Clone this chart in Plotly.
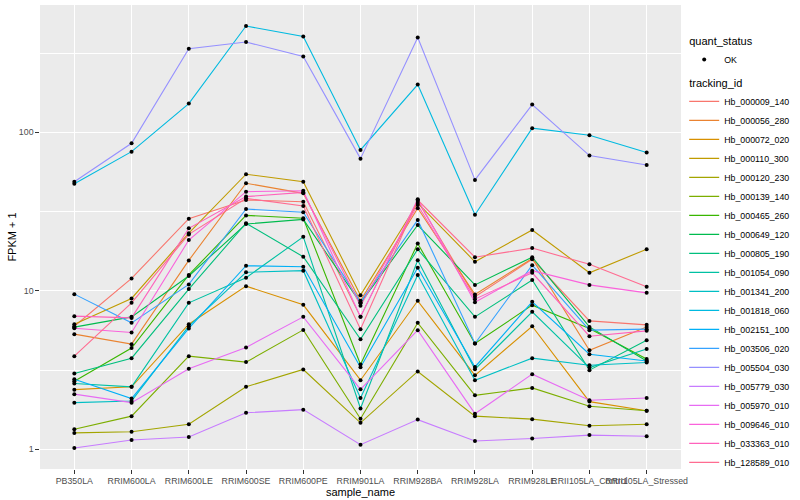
import plotly.graph_objects as go

samples = ["PB350LA", "RRIM600LA", "RRIM600LE", "RRIM600SE", "RRIM600PE", "RRIM901LA",
           "RRIM928BA", "RRIM928LA", "RRIM928LE", "RRII105LA_Control", "RRII105LA_Stressed"]

tracking_ids = ["Hb_000009_140", "Hb_000056_280", "Hb_000072_020", "Hb_000110_300", "Hb_000120_230",
                "Hb_000139_140", "Hb_000465_260", "Hb_000649_120", "Hb_000805_190", "Hb_001054_090",
                "Hb_001341_200", "Hb_001818_060", "Hb_002151_100", "Hb_003506_020", "Hb_005504_030",
                "Hb_005779_030", "Hb_005970_010", "Hb_009646_010", "Hb_033363_010", "Hb_128589_010"]

# FPKM + 1 per sample
hb_000009_140 = [5.98, 11.98, 28.5, 37.4, 36.5, 6.85, 36.9, 9.17, 15.8, 6.46, 6.10]
hb_000056_280 = [5.33, 4.61, 15.56, 47.7, 41.2, 8.67, 33.2, 9.49, 16.0, 4.22, 5.92]
hb_000072_020 = [2.38, 2.48, 6.16, 10.7, 8.16, 2.73, 8.65, 2.93, 5.98, 2.0, 1.75]
hb_000110_300 = [6.16, 8.95, 23.1, 54.4, 48.8, 9.39, 35.8, 15.25, 24.2, 13.0, 18.3]
hb_000120_230 = [1.27, 1.29, 1.44, 2.48, 3.19, 1.47, 3.10, 1.62, 1.55, 1.41, 1.44]
hb_000139_140 = [1.34, 1.62, 3.87, 3.55, 5.67, 1.56, 6.28, 2.19, 2.44, 1.87, 1.75]
hb_000465_260 = [2.69, 4.36, 12.6, 29.9, 28.7, 3.43, 19.9, 4.65, 8.12, 5.79, 3.72]
hb_000649_120 = [5.90, 6.85, 12.4, 26.4, 28.2, 8.36, 26.0, 10.9, 16.3, 5.92, 3.61]
hb_000805_190 = [3.01, 3.76, 10.25, 26.7, 16.4, 4.95, 18.3, 6.85, 11.7, 3.16, 4.88]
hb_001054_090 = [2.60, 2.48, 8.40, 12.1, 21.9, 1.81, 15.6, 3.2, 7.37, 3.28, 4.30]
hb_001341_200 = [1.97, 2.02, 5.98, 13.1, 13.4, 2.11, 12.6, 2.73, 3.76, 3.39, 3.53]
hb_001818_060 = [47.4, 75.5, 151.8, 468, 402.4, 77.4, 200, 30.2, 106.2, 95.9, 74.5]
hb_002151_100 = [2.77, 2.09, 5.79, 14.4, 14.2, 3.30, 13.97, 3.31, 8.52, 3.98, 3.61]
hb_003506_020 = [9.53, 6.28, 10.97, 32.8, 31.3, 8.48, 28.0, 4.65, 14.5, 5.65, 5.73]
hb_005504_030 = [48.8, 85.3, 336.5, 370.9, 300.8, 68.2, 396.5, 50.1, 149.6, 71.3, 62.2]
hb_005779_030 = [1.02, 1.145, 1.196, 1.70, 1.78, 1.07, 1.54, 1.13, 1.17, 1.23, 1.21]
hb_005970_010 = [2.23, 1.97, 3.22, 4.39, 6.85, 2.39, 5.65, 1.68, 2.98, 2.04, 2.11]
hb_009646_010 = [5.81, 5.46, 20.9, 42.2, 42.8, 6.85, 37.8, 8.48, 13.4, 10.9, 9.71]
hb_033363_010 = [6.92, 6.75, 24.8, 39.3, 41.8, 8.04, 34.8, 8.86, 13.0, 5.17, 5.59]
hb_128589_010 = [3.87, 8.40, 22.7, 38.3, 34.3, 5.73, 37.4, 16.3, 18.6, 14.7, 10.6]

series = [hb_000009_140, hb_000056_280, hb_000072_020, hb_000110_300, hb_000120_230,
          hb_000139_140, hb_000465_260, hb_000649_120, hb_000805_190, hb_001054_090,
          hb_001341_200, hb_001818_060, hb_002151_100, hb_003506_020, hb_005504_030,
          hb_005779_030, hb_005970_010, hb_009646_010, hb_033363_010, hb_128589_010]

colors = ["#F8766D", "#EA8331", "#D89000", "#C09B00", "#A3A500", "#7CAE00", "#39B600", "#00BB4E",
          "#00BF7D", "#00C1A3", "#00BFC4", "#00BAE0", "#00B0F6", "#35A2FF", "#9590FF", "#C77CFF",
          "#E76BF3", "#FA62DB", "#FF62BC", "#FF6C91"]

FONT = "Liberation Sans, Arial, sans-serif"

fig = go.Figure()
for i, (tid, vals, col) in enumerate(zip(tracking_ids, series, colors)):
    fig.add_trace(go.Scatter(
        x=samples, y=vals, mode="lines", name=tid,
        line=dict(color=col, width=1.1),
        legendgroup="tracking_id",
        legendgrouptitle=dict(text="tracking_id") if i == 0 else None,
        legendrank=100 + i,
    ))

all_x = [s for vals in series for s in samples]
all_y = [v for vals in series for v in vals]
fig.add_trace(go.Scatter(
    x=all_x, y=all_y, mode="markers", name="OK",
    marker=dict(color="black", size=4),
    legendgroup="quant_status",
    legendgrouptitle=dict(text="quant_status"),
    legendrank=1,
))

fig.update_layout(
    width=800, height=500,
    margin=dict(l=40, r=116, t=5, b=31),
    paper_bgcolor="white", plot_bgcolor="#EBEBEB",
    font=dict(family=FONT, size=9, color="black"),
    showlegend=True,
    legend=dict(
        x=1.005, y=0.955, xanchor="left", yanchor="top",
        font=dict(size=8.8, color="black"),
        grouptitlefont=dict(size=11, color="black"),
        traceorder="grouped", tracegroupgap=4,
        itemwidth=30, bgcolor="rgba(0,0,0,0)",
    ),
    xaxis=dict(
        type="category", categoryorder="array", categoryarray=samples,
        tickmode="array", tickvals=samples,
        range=[-0.6, 10.6], tickangle=0,
        showgrid=True, gridcolor="white", gridwidth=1.07,
        zeroline=False, showline=False,
        ticks="outside", ticklen=3.7, tickcolor="#333333", tickwidth=1,
        tickfont=dict(size=8.8, color="#4D4D4D"),
        title=dict(text="sample_name", font=dict(size=11, color="black"), standoff=0),
        automargin=False,
    ),
    yaxis=dict(
        type="log", range=[-0.124, 2.803],
        tickmode="array", tickvals=[1, 10, 100], ticktext=["1", "10", "100"],
        showgrid=True, gridcolor="white", gridwidth=1.07,
        minor=dict(tickvals=[0.316228, 3.16228, 31.6228, 316.228], showgrid=True,
                   gridcolor="white", gridwidth=0.53, ticks=""),
        zeroline=False, showline=False,
        ticks="outside", ticklen=3.7, tickcolor="#333333", tickwidth=1,
        tickfont=dict(size=8.8, color="#4D4D4D"),
        title=dict(text="FPKM + 1", font=dict(size=11, color="black"), standoff=0),
        automargin=False,
    ),
)

fig.write_html(
    "out.html",
    config={"displayModeBar": False},
    post_script="document.body.style.margin='0px';document.body.style.padding='0px';"
                "document.documentElement.style.overflow='hidden';",
)
